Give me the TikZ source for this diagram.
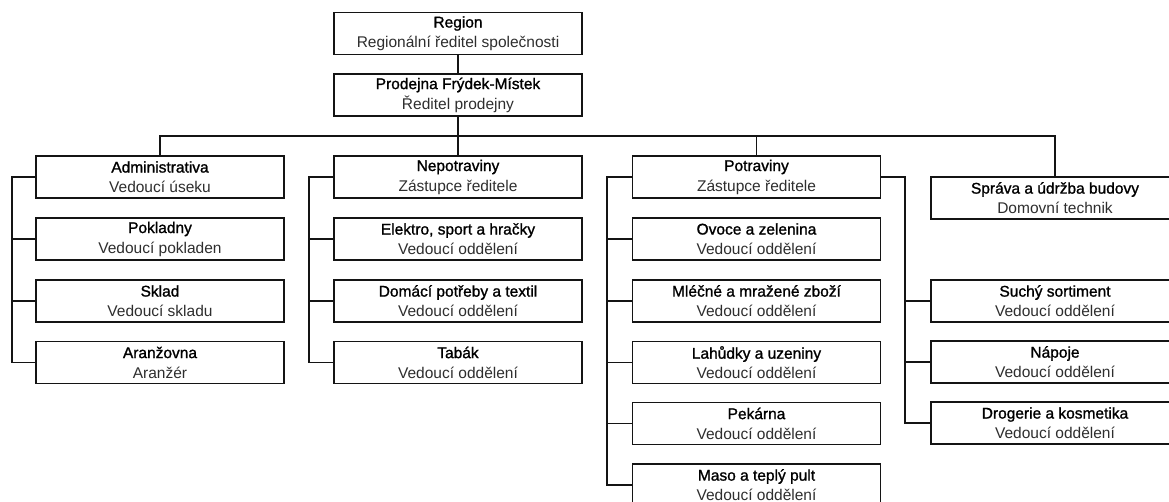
\documentclass[tikz,border=0pt]{standalone}
\usepackage{fontspec}
\setmainfont{Liberation Sans}
\newfontfamily\titlefont{Liberation Sans}[FakeBold=1.2]
\definecolor{lineC}{HTML}{141414}
\definecolor{subC}{HTML}{2E2E2E}
\newcommand{\bx}[2]{{\titlefont\color{black}#1}\\{\color{subC}#2}}
\begin{document}
\begin{tikzpicture}[x=1pt,y=-1pt,
  box/.style={draw=lineC,line width=1.6pt,rectangle,minimum width=248pt,minimum height=42pt,inner sep=0pt,align=center,font=\fontsize{15.5}{20}\selectfont,fill=white},
  conn/.style={draw=lineC,line width=1.6pt}]
\path[use as bounding box,clip] (0,0) rectangle (1169,502);
\fill[white] (0,0) rectangle (1169,502);
% coordinates of buses
\coordinate (bus) at (0,136);
\coordinate (busA) at (12,0);
\coordinate (busB) at (309,0);
\coordinate (busC) at (607,0);
\coordinate (busD) at (905,0);
% nodes
\node[box] (reg) at (458,33.5) {\bx{Region}{Regionální ředitel společnosti}};
\node[box] (pro) at (458,95) {\bx{Prodejna Frýdek-Místek}{Ředitel prodejny}};
% column A
\node[box] (adm) at (160,177) {\bx{Administrativa}{Vedoucí úseku}};
\node[box] (pok) at (160,239) {\bx{Pokladny}{Vedoucí pokladen}};
\node[box] (skl) at (160,301) {\bx{Sklad}{Vedoucí skladu}};
\node[box] (ara) at (160,362.5) {\bx{Aranžovna}{Aranžér}};
% column B
\node[box] (nep) at (458,177) {\bx{Nepotraviny}{Zástupce ředitele}};
\node[box] (ele) at (458,239) {\bx{Elektro, sport a hračky}{Vedoucí oddělení}};
\node[box] (dom) at (458,301) {\bx{Domácí potřeby a textil}{Vedoucí oddělení}};
\node[box] (tab) at (458,362.5) {\bx{Tabák}{Vedoucí oddělení}};
% column C
\node[box] (pot) at (756.5,177) {\bx{Potraviny}{Zástupce ředitele}};
\node[box] (ovo) at (756.5,239) {\bx{Ovoce a zelenina}{Vedoucí oddělení}};
\node[box] (mle) at (756.5,301) {\bx{Mléčné a mražené zboží}{Vedoucí oddělení}};
\node[box] (lah) at (756.5,362.5) {\bx{Lahůdky a uzeniny}{Vedoucí oddělení}};
\node[box] (pek) at (756.5,423.5) {\bx{Pekárna}{Vedoucí oddělení}};
\node[box] (mas) at (756.5,485) {\bx{Maso a teplý pult}{Vedoucí oddělení}};
% column D
\node[box] (spr) at (1055,198) {\bx{Správa a údržba budovy}{Domovní technik}};
\node[box] (suc) at (1055,301) {\bx{Suchý sortiment}{Vedoucí oddělení}};
\node[box] (nap) at (1055,362) {\bx{Nápoje}{Vedoucí oddělení}};
\node[box] (dro) at (1055,423) {\bx{Drogerie a kosmetika}{Vedoucí oddělení}};
% connectors top
\draw[conn] (reg) -- (pro);
\draw[conn] (pro) -- (nep);
\draw[conn] (adm.north) -- (adm.north |- bus) -- (spr.north |- bus) -- (spr.north);
\draw[conn] (pot.north) -- (pot.north |- bus);
% column A
\draw[conn] (adm.west) -- (adm.west -| busA) |- (ara.west);
\draw[conn] (pok.west) -- (pok.west -| busA);
\draw[conn] (skl.west) -- (skl.west -| busA);
% column B
\draw[conn] (nep.west) -- (nep.west -| busB) |- (tab.west);
\draw[conn] (ele.west) -- (ele.west -| busB);
\draw[conn] (dom.west) -- (dom.west -| busB);
% column C
\draw[conn] (pot.west) -- (pot.west -| busC) |- (mas.west);
\draw[conn] (ovo.west) -- (ovo.west -| busC);
\draw[conn] (mle.west) -- (mle.west -| busC);
\draw[conn] (lah.west) -- (lah.west -| busC);
\draw[conn] (pek.west) -- (pek.west -| busC);
% column C right to D
\draw[conn] (pot.east) -- (pot.east -| busD) |- (dro.west);
\draw[conn] (suc.west) -- (suc.west -| busD);
\draw[conn] (nap.west) -- (nap.west -| busD);
\end{tikzpicture}
\end{document}
